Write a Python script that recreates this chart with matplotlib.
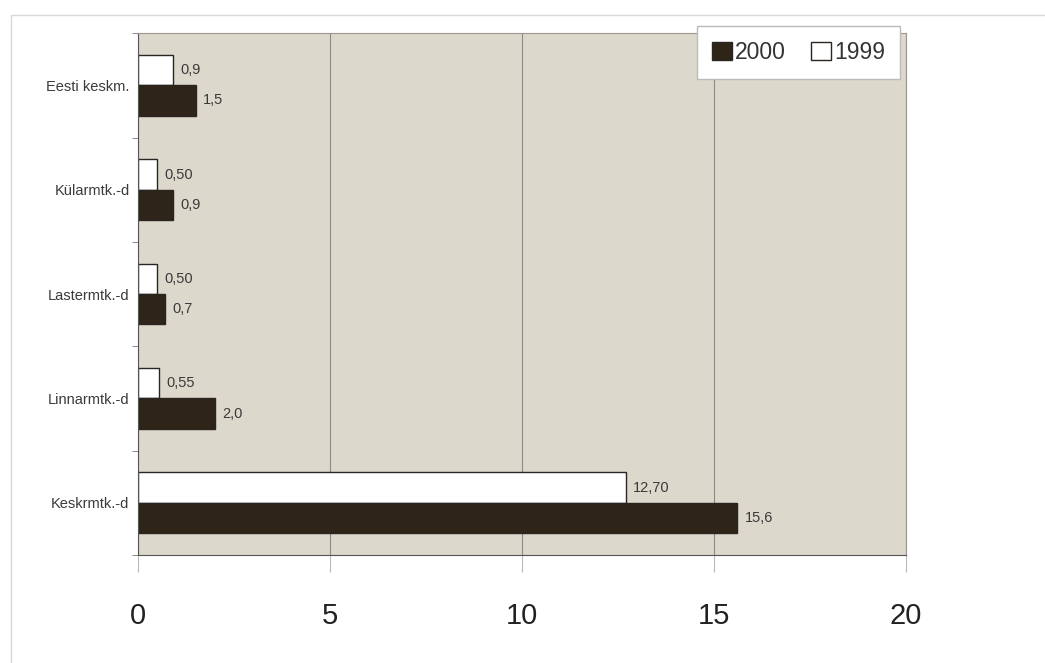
import matplotlib
matplotlib.use("Agg")
import matplotlib.pyplot as plt
from matplotlib.patches import Rectangle
import numpy as np

plt.rcParams['font.family'] = ['Liberation Sans', 'DejaVu Sans']

categories = ["Eesti keskm.", "Külarmtk.-d", "Lastermtk.-d", "Linnarmtk.-d", "Keskrmtk.-d"]
values_2000 = [1.5, 0.9, 0.7, 2.0, 15.6]
values_1999 = [0.9, 0.50, 0.50, 0.55, 12.70]
labels_2000 = ["1,5", "0,9", "0,7", "2,0", "15,6"]
labels_1999 = ["0,9", "0,50", "0,50", "0,55", "12,70"]
x_ticks = [0, 5, 10, 15, 20]

fig = plt.figure(figsize=(10.45, 6.63), dpi=100)
fig.patch.set_facecolor("white")
# faint outer frame of the chart
fig.add_artist(Rectangle((0.011, -0.1), 1.2, 1.077, transform=fig.transFigure,
                         fill=False, edgecolor="#d8d8d8", linewidth=1.0))

ax = fig.add_axes([0.132, 0.163, 0.735, 0.787])
ax.set_facecolor("#dcd8cc")

y = np.arange(len(categories))
h = 0.29
b99 = ax.barh(y - h / 2, values_1999, height=h, color="white", edgecolor="#2a2520", linewidth=1.0, label="1999")
b00 = ax.barh(y + h / 2, values_2000, height=h, color="#2e2418", edgecolor="#2a2520", linewidth=1.0, label="2000")

for bars, labs in ((b99, labels_1999), (b00, labels_2000)):
    for bar, lab in zip(bars, labs):
        ax.text(bar.get_width() + 0.2, bar.get_y() + bar.get_height() / 2, lab,
                va="center", ha="left", fontsize=10.5, color="#3a3a3a")

ax.set_xlim(0, 20)
ax.set_ylim(len(categories) - 0.5, -0.5)
ax.set_xticks(x_ticks)
ax.set_xticklabels([str(t) for t in x_ticks], fontsize=21, color="#222222")
ax.set_yticks(y)
ax.set_yticklabels(categories, fontsize=10.5, color="#3a3a3a")
ax.tick_params(axis="y", length=0, pad=6)
ax.set_yticks(np.arange(len(categories) + 1) - 0.5, minor=True)
ax.tick_params(axis="y", which="minor", length=4, color="#777777")
ax.tick_params(axis="x", length=12, color="#bbbbbb", pad=22)

ax.grid(axis="x", color="#8a8a86", linewidth=0.8)
ax.set_axisbelow(True)
for side in ("top", "right"):
    ax.spines[side].set_color("#9a9890")
    ax.spines[side].set_linewidth(0.8)
ax.spines["left"].set_color("#555555")
ax.spines["bottom"].set_color("#555555")
ax.spines["bottom"].set_linestyle((0, (2, 1)))

leg = ax.legend(handles=[b00, b99], labels=["2000", "1999"], loc="upper right", ncol=2,
                bbox_to_anchor=(0.992, 1.014), borderaxespad=0.0,
                fontsize=16.5, frameon=True, fancybox=False, edgecolor="#bbbbbb",
                handlelength=0.85, handleheight=0.85, handletextpad=0.15, columnspacing=1.1,
                borderpad=0.65)
leg.get_frame().set_facecolor("white")
leg.get_frame().set_alpha(1.0)
for t in leg.get_texts():
    t.set_color("#333333")

fig.savefig("out.png", dpi=100)
